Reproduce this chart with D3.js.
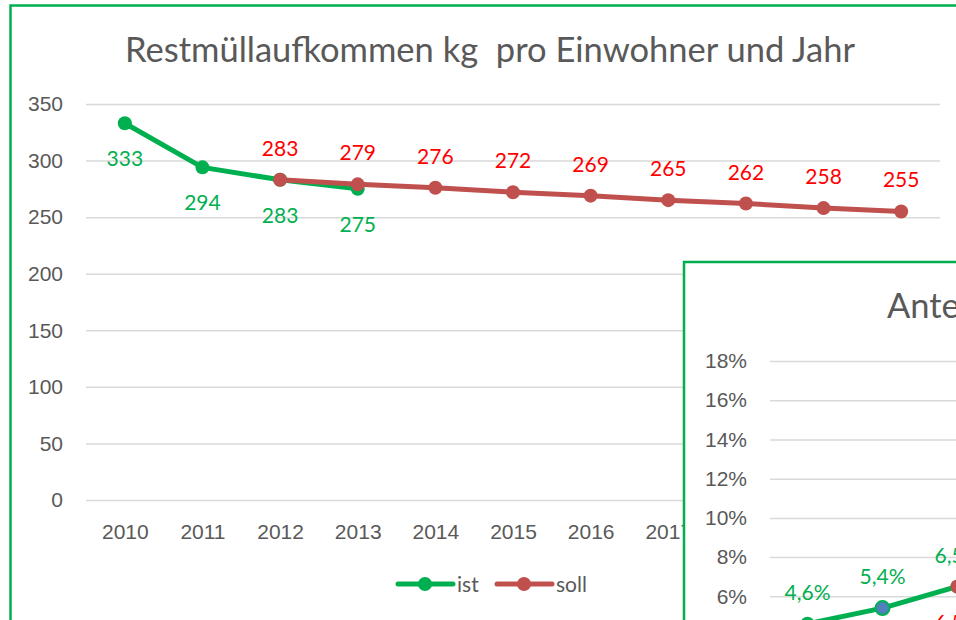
<!DOCTYPE html>
<html>
<head>
<meta charset="utf-8">
<script src="https://cdn.jsdelivr.net/npm/d3@7"></script>
<style>
  body { margin: 0; background: #fff; }
  svg { display: block; font-family: Lato, "Open Sans", sans-serif; }
  .grid line { stroke: #d9d9d9; stroke-width: 1.5; }
  .grid .domain { display: none; }
  .tick text { fill: #595959; }
</style>
</head>
<body>
<svg id="chart" width="956" height="620"></svg>
<script>
// main chart data
const years = ['2010', '2011', '2012', '2013', '2014', '2015', '2016', '2017', '2018', '2019', '2020'];
const istValues = [333, 294, 283, 275, null, null, null, null, null, null, null];
const sollValues = [null, null, 283, 279, 276, 272, 269, 265, 262, 258, 255];
const yTicks = [0, 50, 100, 150, 200, 250, 300, 350];

// second (overlapping) chart data, only the visible part
const pctCats = ['2013', '2014', '2015'];
const pctIst = [0.046, 0.054, 0.065];
const pctSoll = [null, null, 0.065];
const pctTicks = [0, 0.02, 0.04, 0.06, 0.08, 0.10, 0.12, 0.14, 0.16, 0.18];

const green = '#00b050', red = '#c0504d', blue = '#4f81bd', labelRed = '#ff0000';
const fs = 21;
const svg = d3.select('#chart');

const de = d3.formatLocale({ decimal: ',', thousands: '.', grouping: [3], currency: ['', ' €'] });

// ---------- main chart ----------
svg.append('rect')
  .attr('x', 10.5).attr('y', 5.5).attr('width', 960).attr('height', 700)
  .attr('fill', '#fff').attr('stroke', green).attr('stroke-width', 2.5);

svg.append('text')
  .attr('x', 490).attr('y', 62).attr('text-anchor', 'middle')
  .attr('font-size', 34.5).attr('fill', '#595959')
  .text('Restmüllaufkommen kg\u00a0\u00a0pro Einwohner und Jahr');

let x = d3.scalePoint().domain(years).range([86, 940]).padding(0.5);
let y = d3.scaleLinear().domain([0, 350]).range([500, 104]);

svg.append('g')
  .attr('class', 'grid')
  .attr('transform', 'translate(86,0)')
  .call(d3.axisLeft(y).tickValues(yTicks).tickSize(-854).tickPadding(23))
  .call(g => g.selectAll('text').attr('font-size', fs));

svg.append('g')
  .attr('transform', 'translate(0,500)')
  .call(d3.axisBottom(x).tickSize(0).tickPadding(24))
  .call(g => g.select('.domain').remove())
  .call(g => g.selectAll('text').attr('font-size', fs));

function drawSeries(g, xs, ys, cats, values, color) {
  let pts = cats.map((c, i) => ({ c, v: values[i] })).filter(d => d.v != null);
  let line = d3.line().x(d => xs(d.c)).y(d => ys(d.v));
  g.append('path').datum(pts)
    .attr('d', line).attr('fill', 'none')
    .attr('stroke', color).attr('stroke-width', 5).attr('stroke-linejoin', 'round');
  g.selectAll(null).data(pts).enter().append('circle')
    .attr('cx', d => xs(d.c)).attr('cy', d => ys(d.v)).attr('r', 7)
    .attr('fill', color);
  return pts;
}

let main = svg.append('g');
let istPts = drawSeries(main, x, y, years, istValues, green);
let sollPts = drawSeries(main, x, y, years, sollValues, red);

main.selectAll('.istLabel').data(istPts).enter().append('text')
  .attr('x', d => x(d.c)).attr('y', d => y(d.v) + 43)
  .attr('text-anchor', 'middle').attr('font-size', fs).attr('fill', green)
  .text(d => d.v);

main.selectAll('.sollLabel').data(sollPts).enter().append('text')
  .attr('x', d => x(d.c)).attr('y', d => y(d.v) - 24)
  .attr('text-anchor', 'middle').attr('font-size', fs).attr('fill', labelRed)
  .text(d => d.v);

// legend
let legend = svg.append('g').attr('transform', 'translate(398,584)');
[['ist', green, 0], ['soll', red, 99]].forEach(([name, color, dx]) => {
  let item = legend.append('g').attr('transform', `translate(${dx},0)`);
  item.append('line').attr('x1', 0).attr('x2', 55)
    .attr('stroke', color).attr('stroke-width', 5).attr('stroke-linecap', 'round');
  item.append('circle').attr('cx', 27).attr('r', 7).attr('fill', color);
  item.append('text').attr('x', 59).attr('y', 8)
    .attr('font-size', fs).attr('fill', '#595959').text(name);
});

// ---------- overlapping share chart ----------
let inset = svg.append('g');
inset.append('rect')
  .attr('x', 684).attr('y', 262).attr('width', 500).attr('height', 500)
  .attr('fill', '#fff').attr('stroke', green).attr('stroke-width', 2.5);

inset.append('text')
  .attr('x', 887).attr('y', 318)
  .attr('font-size', 34.5).attr('fill', '#595959')
  .text('Anteil');

let x2 = d3.scalePoint().domain(pctCats).range([770, 995]).padding(0.5);
let y2 = d3.scaleLinear().domain([0, 0.18]).range([714, 361]);

inset.append('g')
  .attr('class', 'grid')
  .attr('transform', 'translate(770,0)')
  .call(d3.axisLeft(y2).tickValues(pctTicks).tickFormat(de.format('.0%')).tickSize(-400).tickPadding(23))
  .call(g => g.selectAll('text').attr('font-size', fs));

let pctIstPts = drawSeries(inset, x2, y2, pctCats, pctIst, green);
let pctSollPts = drawSeries(inset, x2, y2, pctCats, pctSoll, red);

// the middle point of the share series is drawn blue with a green ring
inset.selectAll('circle').filter(d => d.c === '2014' && pctIst.includes(d.v))
  .attr('fill', blue).attr('stroke', green).attr('stroke-width', 2).attr('r', 7);

let pf = de.format('.1%');
inset.selectAll('.pIst').data(pctIstPts).enter().append('text')
  .attr('x', d => x2(d.c)).attr('y', d => y2(d.v) - 24)
  .attr('text-anchor', 'middle').attr('font-size', fs).attr('fill', green)
  .text(d => pf(d.v));

inset.selectAll('.pSoll').data(pctSollPts).enter().append('text')
  .attr('x', d => x2(d.c)).attr('y', d => y2(d.v) + 43)
  .attr('text-anchor', 'middle').attr('font-size', fs).attr('fill', labelRed)
  .text(d => pf(d.v));
</script>
</body>
</html>
